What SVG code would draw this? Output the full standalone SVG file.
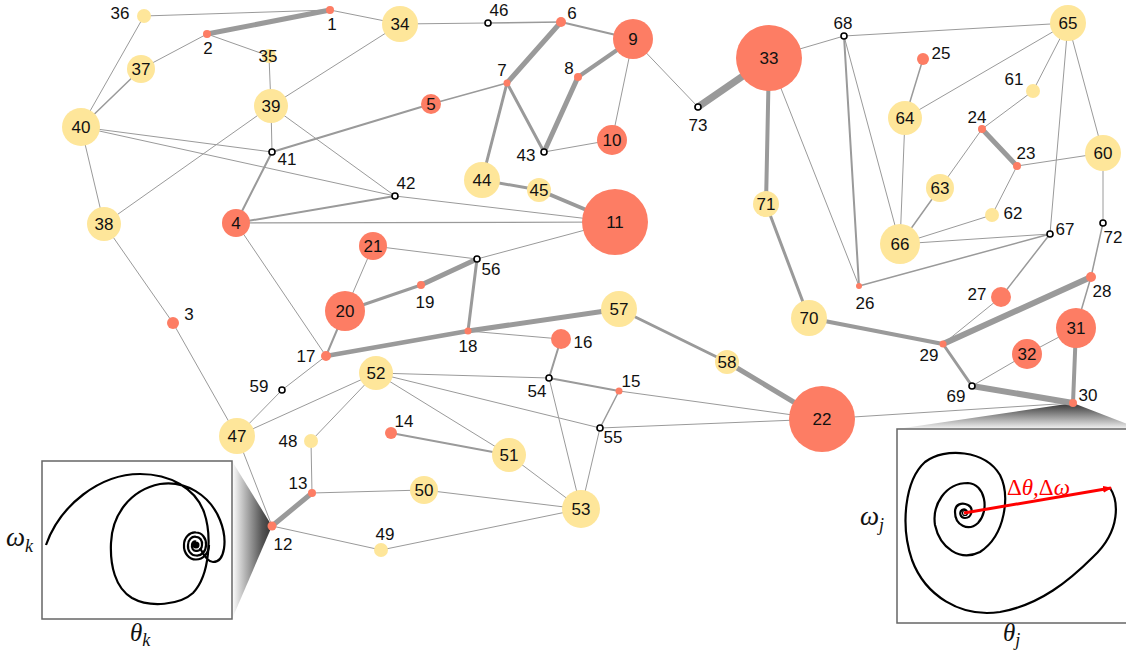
<svg xmlns="http://www.w3.org/2000/svg" width="1126" height="656" viewBox="0 0 1126 656">
<style>
.e{stroke:#9a9a9a;fill:none;stroke-linecap:round}
.r{fill:#fd7d64}
.y{fill:#fee69a}
.h{fill:#fff;stroke:#000;stroke-width:1.6}
text{font-family:"Liberation Sans",Arial,sans-serif;font-size:17px;fill:#111;text-anchor:middle}
text.m{font-family:"Liberation Serif","Times New Roman",serif;font-style:italic;text-anchor:start;font-size:27px}
text.m2{font-size:25px}
text.red{font-size:23px;fill:#f00}
.sub{font-size:18px}
.up{font-style:normal}
.box{fill:#fff;stroke:#666;stroke-width:1.5}
.c{fill:none;stroke:#000;stroke-width:2.2;stroke-linejoin:round}
</style>
<defs>
<linearGradient id="gl" gradientUnits="userSpaceOnUse" x1="232" y1="0" x2="272" y2="0">
<stop offset="0" stop-color="#ffffff"/><stop offset="0.75" stop-color="#555"/><stop offset="1" stop-color="#333"/>
</linearGradient>
<linearGradient id="gr" gradientUnits="userSpaceOnUse" x1="0" y1="403" x2="0" y2="429">
<stop offset="0" stop-color="#333"/><stop offset="1" stop-color="#f4f4f4"/>
</linearGradient>
<marker id="ah" markerWidth="9" markerHeight="7" refX="8" refY="3.5" orient="auto" markerUnits="userSpaceOnUse">
<path d="M0,0 L9,3.5 L0,7 z" fill="#f00"/>
</marker>
</defs>
<rect width="1126" height="656" fill="#fff"/>
<g id="zoom-cones">
<polygon points="272,526 232,461 232,619" fill="url(#gl)"/>
<polygon points="1073,403 897,429 1140,429" fill="url(#gr)"/>
</g>
<g id="connectors">
<line class="e" stroke-width="1" x1="144" y1="16" x2="330" y2="10"/>
<line class="e" stroke-width="1" x1="144" y1="16" x2="81" y2="127"/>
<line class="e" stroke-width="5" x1="330" y1="10" x2="207" y2="34"/>
<line class="e" stroke-width="1" x1="207" y1="34" x2="141" y2="69"/>
<line class="e" stroke-width="1" x1="207" y1="34" x2="269" y2="56"/>
<line class="e" stroke-width="1" x1="269" y1="56" x2="271" y2="106"/>
<line class="e" stroke-width="1" x1="330" y1="10" x2="400" y2="24"/>
<line class="e" stroke-width="1" x1="400" y1="24" x2="271" y2="106"/>
<line class="e" stroke-width="1.5" x1="141" y1="69" x2="81" y2="127"/>
<line class="e" stroke-width="1" x1="81" y1="127" x2="272" y2="152"/>
<line class="e" stroke-width="1" x1="81" y1="127" x2="395" y2="196"/>
<line class="e" stroke-width="1" x1="81" y1="127" x2="104" y2="224"/>
<line class="e" stroke-width="1" x1="271" y1="106" x2="272" y2="152"/>
<line class="e" stroke-width="1" x1="271" y1="106" x2="104" y2="224"/>
<line class="e" stroke-width="1" x1="271" y1="106" x2="395" y2="196"/>
<line class="e" stroke-width="2" x1="272" y1="152" x2="431" y2="104"/>
<line class="e" stroke-width="2" x1="272" y1="152" x2="236" y2="223"/>
<line class="e" stroke-width="2" x1="236" y1="223" x2="395" y2="196"/>
<line class="e" stroke-width="1.2" x1="236" y1="223" x2="615" y2="222"/>
<line class="e" stroke-width="1" x1="395" y1="196" x2="615" y2="222"/>
<line class="e" stroke-width="1" x1="400" y1="24" x2="488" y2="23"/>
<line class="e" stroke-width="1.5" x1="488" y1="23" x2="561" y2="22"/>
<line class="e" stroke-width="2" x1="561" y1="22" x2="633" y2="39"/>
<line class="e" stroke-width="5" x1="561" y1="22" x2="507" y2="83"/>
<line class="e" stroke-width="1.5" x1="507" y1="83" x2="431" y2="104"/>
<line class="e" stroke-width="3" x1="507" y1="83" x2="482" y2="180"/>
<line class="e" stroke-width="3" x1="507" y1="83" x2="544" y2="152"/>
<line class="e" stroke-width="5" x1="544" y1="152" x2="578" y2="77"/>
<line class="e" stroke-width="4" x1="578" y1="77" x2="633" y2="39"/>
<line class="e" stroke-width="1" x1="544" y1="152" x2="612" y2="140"/>
<line class="e" stroke-width="1" x1="612" y1="140" x2="633" y2="39"/>
<line class="e" stroke-width="1" x1="633" y1="39" x2="698" y2="107"/>
<line class="e" stroke-width="7" x1="698" y1="107" x2="769" y2="58"/>
<line class="e" stroke-width="3" x1="482" y1="180" x2="539" y2="190"/>
<line class="e" stroke-width="4" x1="539" y1="190" x2="615" y2="222"/>
<line class="e" stroke-width="1" x1="615" y1="222" x2="477" y2="259"/>
<line class="e" stroke-width="1" x1="373" y1="246" x2="477" y2="259"/>
<line class="e" stroke-width="1" x1="373" y1="246" x2="345" y2="311"/>
<line class="e" stroke-width="3" x1="345" y1="311" x2="421" y2="285"/>
<line class="e" stroke-width="5" x1="421" y1="285" x2="477" y2="259"/>
<line class="e" stroke-width="3" x1="477" y1="259" x2="468" y2="331"/>
<line class="e" stroke-width="4.5" x1="326" y1="356" x2="468" y2="331"/>
<line class="e" stroke-width="5" x1="468" y1="331" x2="619" y2="309"/>
<line class="e" stroke-width="1" x1="468" y1="331" x2="561" y2="339"/>
<line class="e" stroke-width="1" x1="236" y1="223" x2="326" y2="356"/>
<line class="e" stroke-width="2" x1="345" y1="311" x2="326" y2="356"/>
<line class="e" stroke-width="1" x1="326" y1="356" x2="282" y2="390"/>
<line class="e" stroke-width="1" x1="282" y1="390" x2="237" y2="436"/>
<line class="e" stroke-width="1" x1="173" y1="323" x2="104" y2="224"/>
<line class="e" stroke-width="1" x1="173" y1="323" x2="237" y2="436"/>
<line class="e" stroke-width="1" x1="237" y1="436" x2="376" y2="373"/>
<line class="e" stroke-width="1" x1="237" y1="436" x2="272" y2="526"/>
<line class="e" stroke-width="1" x1="376" y1="373" x2="311" y2="441"/>
<line class="e" stroke-width="1" x1="311" y1="441" x2="312" y2="493"/>
<line class="e" stroke-width="1" x1="376" y1="373" x2="549" y2="378"/>
<line class="e" stroke-width="1" x1="376" y1="373" x2="600" y2="428"/>
<line class="e" stroke-width="1" x1="376" y1="373" x2="509" y2="455"/>
<line class="e" stroke-width="2" x1="549" y1="378" x2="561" y2="339"/>
<line class="e" stroke-width="2" x1="549" y1="378" x2="619" y2="391"/>
<line class="e" stroke-width="1" x1="549" y1="378" x2="581" y2="509"/>
<line class="e" stroke-width="1.5" x1="619" y1="391" x2="600" y2="428"/>
<line class="e" stroke-width="1" x1="619" y1="391" x2="822" y2="419"/>
<line class="e" stroke-width="1" x1="600" y1="428" x2="822" y2="419"/>
<line class="e" stroke-width="1" x1="600" y1="428" x2="581" y2="509"/>
<line class="e" stroke-width="2" x1="391" y1="433" x2="509" y2="455"/>
<line class="e" stroke-width="1" x1="509" y1="455" x2="581" y2="509"/>
<line class="e" stroke-width="1" x1="312" y1="493" x2="424" y2="490"/>
<line class="e" stroke-width="1" x1="424" y1="490" x2="581" y2="509"/>
<line class="e" stroke-width="5" x1="272" y1="526" x2="312" y2="493"/>
<line class="e" stroke-width="1" x1="272" y1="526" x2="381" y2="550"/>
<line class="e" stroke-width="1" x1="381" y1="550" x2="581" y2="509"/>
<line class="e" stroke-width="3" x1="619" y1="309" x2="727" y2="362"/>
<line class="e" stroke-width="5" x1="727" y1="362" x2="822" y2="419"/>
<line class="e" stroke-width="1" x1="822" y1="419" x2="1073" y2="403"/>
<line class="e" stroke-width="1" x1="769" y1="58" x2="844" y2="36"/>
<line class="e" stroke-width="4" x1="769" y1="58" x2="766" y2="204"/>
<line class="e" stroke-width="1" x1="769" y1="58" x2="859" y2="286"/>
<line class="e" stroke-width="1" x1="844" y1="36" x2="1068" y2="23"/>
<line class="e" stroke-width="2" x1="844" y1="36" x2="859" y2="286"/>
<line class="e" stroke-width="1" x1="844" y1="36" x2="900" y2="244"/>
<line class="e" stroke-width="3" x1="766" y1="204" x2="809" y2="318"/>
<line class="e" stroke-width="4" x1="809" y1="318" x2="943" y2="344"/>
<line class="e" stroke-width="6" x1="943" y1="344" x2="1091" y2="277"/>
<line class="e" stroke-width="1" x1="943" y1="344" x2="1001" y2="297"/>
<line class="e" stroke-width="3" x1="943" y1="344" x2="972" y2="386"/>
<line class="e" stroke-width="6" x1="972" y1="386" x2="1073" y2="403"/>
<line class="e" stroke-width="1" x1="972" y1="386" x2="1027" y2="354"/>
<line class="e" stroke-width="1" x1="1027" y1="354" x2="1076" y2="328"/>
<line class="e" stroke-width="4" x1="1076" y1="328" x2="1073" y2="403"/>
<line class="e" stroke-width="1.5" x1="1076" y1="328" x2="1091" y2="277"/>
<line class="e" stroke-width="1.5" x1="1091" y1="277" x2="1103" y2="223"/>
<line class="e" stroke-width="1" x1="1103" y1="223" x2="1103" y2="153"/>
<line class="e" stroke-width="1" x1="1103" y1="153" x2="1017" y2="166"/>
<line class="e" stroke-width="1" x1="1103" y1="153" x2="1068" y2="23"/>
<line class="e" stroke-width="1" x1="1068" y1="23" x2="1033" y2="91"/>
<line class="e" stroke-width="1" x1="1068" y1="23" x2="905" y2="118"/>
<line class="e" stroke-width="1" x1="1068" y1="23" x2="1050" y2="234"/>
<line class="e" stroke-width="1" x1="1033" y1="91" x2="982" y2="129"/>
<line class="e" stroke-width="5" x1="982" y1="129" x2="1017" y2="166"/>
<line class="e" stroke-width="1" x1="982" y1="129" x2="940" y2="188"/>
<line class="e" stroke-width="1" x1="1017" y1="166" x2="992" y2="215"/>
<line class="e" stroke-width="1.5" x1="940" y1="188" x2="900" y2="244"/>
<line class="e" stroke-width="1" x1="905" y1="118" x2="900" y2="244"/>
<line class="e" stroke-width="1.5" x1="905" y1="118" x2="923" y2="59"/>
<line class="e" stroke-width="1" x1="992" y1="215" x2="900" y2="244"/>
<line class="e" stroke-width="1" x1="900" y1="244" x2="1050" y2="234"/>
<line class="e" stroke-width="1.5" x1="859" y1="286" x2="1050" y2="234"/>
<line class="e" stroke-width="1.5" x1="1050" y1="234" x2="1001" y2="297"/>
</g>
<g id="inset-k">
<rect class="box" x="42" y="461" width="190" height="158"/>
<path class="c" d="M46,545 C60,505 100,474 140,474 C170,474 195,488 204,512 C212,535 210,575 193,593 C180,605 150,608 132,598 C115,588 110,565 111,543 C112,515 130,490 160,484 C185,480 210,495 220,520 C228,540 225,562 213,562 C208,562 204,556 200,548"/>
<path class="c" d="M209,545 A13,14.5 0 0 1 196,559.5 A12,13.5 0 0 1 184,545 A11,12.5 0 0 1 196,532.5 A10,11.5 0 0 1 206,545 A9,10.5 0 0 1 196,555.5 A8,9.3 0 0 1 188,545 A7,8.2 0 0 1 196,536.8 A6,7 0 0 1 202,545 A5,5.8 0 0 1 196,550.8 A4,4.6 0 0 1 192,545 A3,3.5 0 0 1 196,541.5"/>
<circle cx="196" cy="545" r="3.5" fill="#000"/>
<text class="m" x="6" y="546">ω<tspan class="sub" dy="6">k</tspan></text>
<text class="m m2" x="130" y="641">θ<tspan class="sub" dy="5">k</tspan></text>
</g>
<g id="inset-j">
<rect class="box" x="897" y="429" width="240" height="194"/>
<path class="c" d="M1110,488 C1118,500 1122,530 1093,557 C1070,580 1040,605 1000,612 C960,618 925,595 912,560 C900,525 905,480 925,462 C945,447 985,450 1000,475 C1010,495 1006,535 980,552 C960,562 940,548 935,525 C932,505 945,483 968,483 C985,484 990,510 978,523 C968,532 955,525 955,512 C955,504 962,502 968,505 C974,508 972,518 965,518 C960,518 959,512 962,510 C966,508 968,512 966,514"/>
<circle cx="965" cy="513" r="2.5" fill="none" stroke="#000" stroke-width="1.2"/>
<line x1="964" y1="513" x2="1111" y2="488" stroke="#f00" stroke-width="3" marker-end="url(#ah)"/>
<text class="m red" x="1007" y="495"><tspan class="up">Δ</tspan>θ,<tspan class="up">Δ</tspan>ω</text>
<text class="m" x="860" y="525">ω<tspan class="sub" dy="6">j</tspan></text>
<text class="m m2" x="1003" y="641">θ<tspan class="sub" dy="5">j</tspan></text>
</g>
<g id="nodes">
<g id="n1"><circle class="r" cx="330" cy="10" r="4"/><text x="332" y="30">1</text></g>
<g id="n2"><circle class="r" cx="207" cy="34" r="4"/><text x="208" y="54">2</text></g>
<g id="n3"><circle class="r" cx="173" cy="323" r="6"/><text x="189" y="320">3</text></g>
<g id="n4"><circle class="r" cx="236" cy="223" r="14"/><text x="236" y="229">4</text></g>
<g id="n5"><circle class="r" cx="431" cy="104" r="10"/><text x="431" y="110">5</text></g>
<g id="n6"><circle class="r" cx="561" cy="22" r="5"/><text x="572" y="19">6</text></g>
<g id="n7"><circle class="r" cx="507" cy="83" r="3.5"/><text x="502" y="76">7</text></g>
<g id="n8"><circle class="r" cx="578" cy="77" r="4"/><text x="569" y="74">8</text></g>
<g id="n9"><circle class="r" cx="633" cy="39" r="20"/><text x="633" y="45">9</text></g>
<g id="n10"><circle class="r" cx="612" cy="140" r="15"/><text x="612" y="146">10</text></g>
<g id="n11"><circle class="r" cx="615" cy="222" r="33"/><text x="615" y="228">11</text></g>
<g id="n12"><circle class="r" cx="272" cy="526" r="4.5"/><text x="283" y="550">12</text></g>
<g id="n13"><circle class="r" cx="312" cy="493" r="4"/><text x="298" y="489">13</text></g>
<g id="n14"><circle class="r" cx="391" cy="433" r="6"/><text x="404" y="427">14</text></g>
<g id="n15"><circle class="r" cx="619" cy="391" r="3.5"/><text x="631" y="387">15</text></g>
<g id="n16"><circle class="r" cx="561" cy="339" r="10"/><text x="583" y="348">16</text></g>
<g id="n17"><circle class="r" cx="326" cy="356" r="5"/><text x="306" y="362">17</text></g>
<g id="n18"><circle class="r" cx="468" cy="331" r="3.5"/><text x="468" y="352">18</text></g>
<g id="n19"><circle class="r" cx="421" cy="285" r="4"/><text x="425" y="308">19</text></g>
<g id="n20"><circle class="r" cx="345" cy="311" r="20"/><text x="345" y="317">20</text></g>
<g id="n21"><circle class="r" cx="373" cy="246" r="14"/><text x="373" y="252">21</text></g>
<g id="n22"><circle class="r" cx="822" cy="419" r="33"/><text x="822" y="425">22</text></g>
<g id="n23"><circle class="r" cx="1017" cy="166" r="4"/><text x="1026" y="159">23</text></g>
<g id="n24"><circle class="r" cx="982" cy="129" r="4"/><text x="977" y="123">24</text></g>
<g id="n25"><circle class="r" cx="923" cy="59" r="6"/><text x="941" y="59">25</text></g>
<g id="n26"><circle class="r" cx="859" cy="286" r="3"/><text x="865" y="309">26</text></g>
<g id="n27"><circle class="r" cx="1001" cy="297" r="10"/><text x="977" y="300">27</text></g>
<g id="n28"><circle class="r" cx="1091" cy="277" r="5"/><text x="1102" y="297">28</text></g>
<g id="n29"><circle class="r" cx="943" cy="344" r="3.5"/><text x="929" y="361">29</text></g>
<g id="n30"><circle class="r" cx="1073" cy="403" r="4"/><text x="1088" y="401">30</text></g>
<g id="n31"><circle class="r" cx="1076" cy="328" r="20"/><text x="1076" y="334">31</text></g>
<g id="n32"><circle class="r" cx="1027" cy="354" r="15"/><text x="1027" y="360">32</text></g>
<g id="n33"><circle class="r" cx="769" cy="58" r="33"/><text x="769" y="64">33</text></g>
<g id="n34"><circle class="y" cx="400" cy="24" r="18"/><text x="400" y="30">34</text></g>
<g id="n35"><circle class="y" cx="269" cy="56" r="7"/><text x="268" y="62">35</text></g>
<g id="n36"><circle class="y" cx="144" cy="16" r="7"/><text x="120" y="19">36</text></g>
<g id="n37"><circle class="y" cx="141" cy="69" r="14"/><text x="141" y="75">37</text></g>
<g id="n38"><circle class="y" cx="104" cy="224" r="17"/><text x="104" y="230">38</text></g>
<g id="n39"><circle class="y" cx="271" cy="106" r="17"/><text x="271" y="112">39</text></g>
<g id="n40"><circle class="y" cx="81" cy="127" r="19"/><text x="81" y="133">40</text></g>
<g id="n41"><circle class="h" cx="272" cy="152" r="3"/><text x="287" y="165">41</text></g>
<g id="n42"><circle class="h" cx="395" cy="196" r="3"/><text x="406" y="189">42</text></g>
<g id="n43"><circle class="h" cx="544" cy="152" r="3"/><text x="526" y="161">43</text></g>
<g id="n44"><circle class="y" cx="482" cy="180" r="18"/><text x="482" y="186">44</text></g>
<g id="n45"><circle class="y" cx="539" cy="190" r="12"/><text x="539" y="196">45</text></g>
<g id="n46"><circle class="h" cx="488" cy="23" r="3"/><text x="499" y="16">46</text></g>
<g id="n47"><circle class="y" cx="237" cy="436" r="18"/><text x="237" y="442">47</text></g>
<g id="n48"><circle class="y" cx="311" cy="441" r="7"/><text x="288" y="447">48</text></g>
<g id="n49"><circle class="y" cx="381" cy="550" r="7"/><text x="385" y="540">49</text></g>
<g id="n50"><circle class="y" cx="424" cy="490" r="14"/><text x="424" y="496">50</text></g>
<g id="n51"><circle class="y" cx="509" cy="455" r="17"/><text x="509" y="461">51</text></g>
<g id="n52"><circle class="y" cx="376" cy="373" r="17"/><text x="376" y="379">52</text></g>
<g id="n53"><circle class="y" cx="581" cy="509" r="19"/><text x="581" y="515">53</text></g>
<g id="n54"><circle class="h" cx="549" cy="378" r="3"/><text x="537" y="397">54</text></g>
<g id="n55"><circle class="h" cx="600" cy="428" r="3"/><text x="613" y="443">55</text></g>
<g id="n56"><circle class="h" cx="477" cy="259" r="3"/><text x="491" y="275">56</text></g>
<g id="n57"><circle class="y" cx="619" cy="309" r="18"/><text x="619" y="315">57</text></g>
<g id="n58"><circle class="y" cx="727" cy="362" r="12"/><text x="727" y="368">58</text></g>
<g id="n59"><circle class="h" cx="282" cy="390" r="3"/><text x="259" y="392">59</text></g>
<g id="n60"><circle class="y" cx="1103" cy="153" r="18"/><text x="1103" y="159">60</text></g>
<g id="n61"><circle class="y" cx="1033" cy="91" r="7"/><text x="1014" y="85">61</text></g>
<g id="n62"><circle class="y" cx="992" cy="215" r="7"/><text x="1013" y="219">62</text></g>
<g id="n63"><circle class="y" cx="940" cy="188" r="14"/><text x="940" y="194">63</text></g>
<g id="n64"><circle class="y" cx="905" cy="118" r="17"/><text x="905" y="124">64</text></g>
<g id="n65"><circle class="y" cx="1068" cy="23" r="18"/><text x="1068" y="29">65</text></g>
<g id="n66"><circle class="y" cx="900" cy="244" r="20"/><text x="900" y="250">66</text></g>
<g id="n67"><circle class="h" cx="1050" cy="234" r="3"/><text x="1065" y="235">67</text></g>
<g id="n68"><circle class="h" cx="844" cy="36" r="3"/><text x="843" y="29">68</text></g>
<g id="n69"><circle class="h" cx="972" cy="386" r="3"/><text x="956" y="402">69</text></g>
<g id="n70"><circle class="y" cx="809" cy="318" r="18"/><text x="809" y="324">70</text></g>
<g id="n71"><circle class="y" cx="766" cy="204" r="13"/><text x="766" y="210">71</text></g>
<g id="n72"><circle class="h" cx="1103" cy="223" r="3"/><text x="1113" y="243">72</text></g>
<g id="n73"><circle class="h" cx="698" cy="107" r="3"/><text x="698" y="131">73</text></g>
</g>
</svg>
